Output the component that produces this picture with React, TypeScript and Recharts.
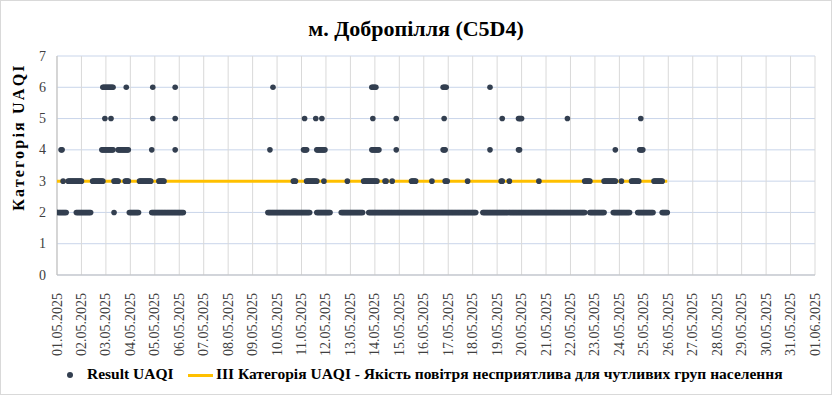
import React from 'react';
import { ScatterChart, Scatter, XAxis, YAxis, CartesianGrid } from 'recharts';

// hourly timeline: hour 0 = 01.05.2025 00:00, last reading = 25.05.2025 23:00
const FIRST_HOUR = 0;
const LAST_HOUR = 599;
const THRESHOLD = 3;

const DAY_LABELS = [
  '01.05.2025', '02.05.2025', '03.05.2025', '04.05.2025', '05.05.2025', '06.05.2025',
  '07.05.2025', '08.05.2025', '09.05.2025', '10.05.2025', '11.05.2025', '12.05.2025',
  '13.05.2025', '14.05.2025', '15.05.2025', '16.05.2025', '17.05.2025', '18.05.2025',
  '19.05.2025', '20.05.2025', '21.05.2025', '22.05.2025', '23.05.2025', '24.05.2025',
  '25.05.2025', '26.05.2025', '27.05.2025', '28.05.2025', '29.05.2025', '30.05.2025',
  '31.05.2025', '01.06.2025'
];
const Y_TICKS = [0, 1, 2, 3, 4, 5, 6, 7];

// runs of hours [from, to] where Result UAQI was at each category
const UAQI_2 = [[0, 9], [19, 33], [56, 56], [71, 80], [93, 124], [207, 248], [255, 268], [279, 300],
  [306, 411], [418, 518], [523, 537], [546, 562], [570, 585], [594, 599]];
const UAQI_3 = [[6, 6], [11, 24], [35, 45], [56, 60], [67, 70], [81, 92], [100, 105], [232, 234],
  [245, 255], [262, 262], [285, 285], [301, 314], [322, 323], [329, 329], [348, 352], [368, 368],
  [381, 383], [403, 403], [436, 437], [444, 444], [473, 473], [518, 523], [537, 548], [554, 554],
  [564, 571], [586, 594]];
const UAQI_4 = [[4, 5], [44, 55], [60, 70], [93, 93], [116, 116], [209, 209], [242, 245], [255, 263],
  [309, 316], [333, 333], [379, 381], [425, 425], [453, 454], [548, 548], [572, 575]];
const UAQI_5 = [[47, 47], [53, 53], [94, 94], [116, 116], [243, 243], [254, 254], [260, 260], [310, 310],
  [333, 333], [380, 380], [437, 437], [453, 456], [501, 501], [573, 573]];
const UAQI_6 = [[45, 55], [68, 68], [94, 94], [116, 116], [212, 212], [309, 313], [379, 382], [425, 425]];

const DOT = '#333f50';
const ORANGE = '#ffc000';
const SERIF = '"Liberation Serif", "Times New Roman", serif';

function toPoints(runs: number[][], v: number) {
  const pts: { h: number; v: number }[] = [];
  runs.forEach(([a, b]) => {
    for (let h = a; h <= b; h++) pts.push({ h, v });
  });
  return pts;
}

const resultData = [
  ...toPoints(UAQI_2, 2),
  ...toPoints(UAQI_3, 3),
  ...toPoints(UAQI_4, 4),
  ...toPoints(UAQI_5, 5),
  ...toPoints(UAQI_6, 6),
];
const thresholdData = [{ h: FIRST_HOUR, v: THRESHOLD }, { h: LAST_HOUR, v: THRESHOLD }];
const xTicks = DAY_LABELS.map((_, i) => i * 24);

const DateTick = (props: any) => {
  const { x, y, payload } = props;
  const ty = y + 10;
  return (
    <text x={x} y={ty} transform={`rotate(-90, ${x}, ${ty})`} textAnchor="end" dominantBaseline="central"
      fontFamily={SERIF} fontSize={14} fill="#404040">
      {DAY_LABELS[payload.value / 24]}
    </text>
  );
};

const ValueTick = (props: any) => {
  const { y, payload } = props;
  return (
    <text x={46} y={y} textAnchor="end" dominantBaseline="central" fontFamily={SERIF} fontSize={14} fill="#404040">
      {payload.value}
    </text>
  );
};

export default function App() {
  return (
    <div style={{ position: 'absolute', left: 0, top: 0, width: 832, height: 395, background: '#fff', fontFamily: SERIF }}>
      <div style={{ position: 'absolute', inset: 0, border: '1px solid #d9d9d9', boxSizing: 'border-box' }} />
      <div style={{ position: 'absolute', top: 16, left: 0, width: 832, textAlign: 'center', fontWeight: 'bold', fontSize: 22, color: '#000' }}>
        м. Добропілля (C5D4)
      </div>
      <ScatterChart width={832} height={395} margin={{ top: 56, right: 17, bottom: 0, left: 0 }}>
        <CartesianGrid vertical={false} stroke="#c9d5ea" />
        <CartesianGrid horizontal={false} stroke="#d9d9d9" />
        <XAxis type="number" dataKey="h" domain={[0, 744]} ticks={xTicks} interval={0} height={120}
          tick={<DateTick />} tickLine={false} axisLine={{ stroke: '#bfbfbf' }} allowDataOverflow />
        <YAxis type="number" dataKey="v" domain={[0, 7]} ticks={Y_TICKS} width={57}
          tick={<ValueTick />} tickLine={false} axisLine={{ stroke: '#bfbfbf' }}
          label={() => (
            <text x={18} y={137} transform="rotate(-90, 18, 137)" textAnchor="middle" dominantBaseline="central"
              fontFamily={SERIF} fontWeight="bold" fontSize={16} letterSpacing={2.2} fill="#000">
              Категорія UAQI
            </text>
          )} />
        <Scatter name="ІІІ Категорія UAQI - Якість повітря несприятлива для чутливих груп населення"
          data={thresholdData} line={{ stroke: ORANGE, strokeWidth: 3 }} shape={() => null} isAnimationActive={false} />
        <Scatter name="Result UAQI" data={resultData} fill={DOT} isAnimationActive={false}
          shape={(p: any) => <circle cx={p.cx} cy={p.cy} r={2.8} fill={DOT} />} />
      </ScatterChart>
      <div style={{ position: 'absolute', top: 365, left: 0, width: 832, height: 20, fontWeight: 'bold', fontSize: 15.5, color: '#000' }}>
        <span style={{ position: 'absolute', left: 67, top: 7, width: 6, height: 6, borderRadius: 3, background: DOT }} />
        <span style={{ position: 'absolute', left: 87, top: 0, whiteSpace: 'nowrap' }}>Result UAQI</span>
        <span style={{ position: 'absolute', left: 188, top: 9, width: 25, height: 3, background: ORANGE }} />
        <span style={{ position: 'absolute', left: 216, top: 0, whiteSpace: 'nowrap' }}>
          ІІІ Категорія UAQI - Якість повітря несприятлива для чутливих груп населення
        </span>
      </div>
    </div>
  );
}
